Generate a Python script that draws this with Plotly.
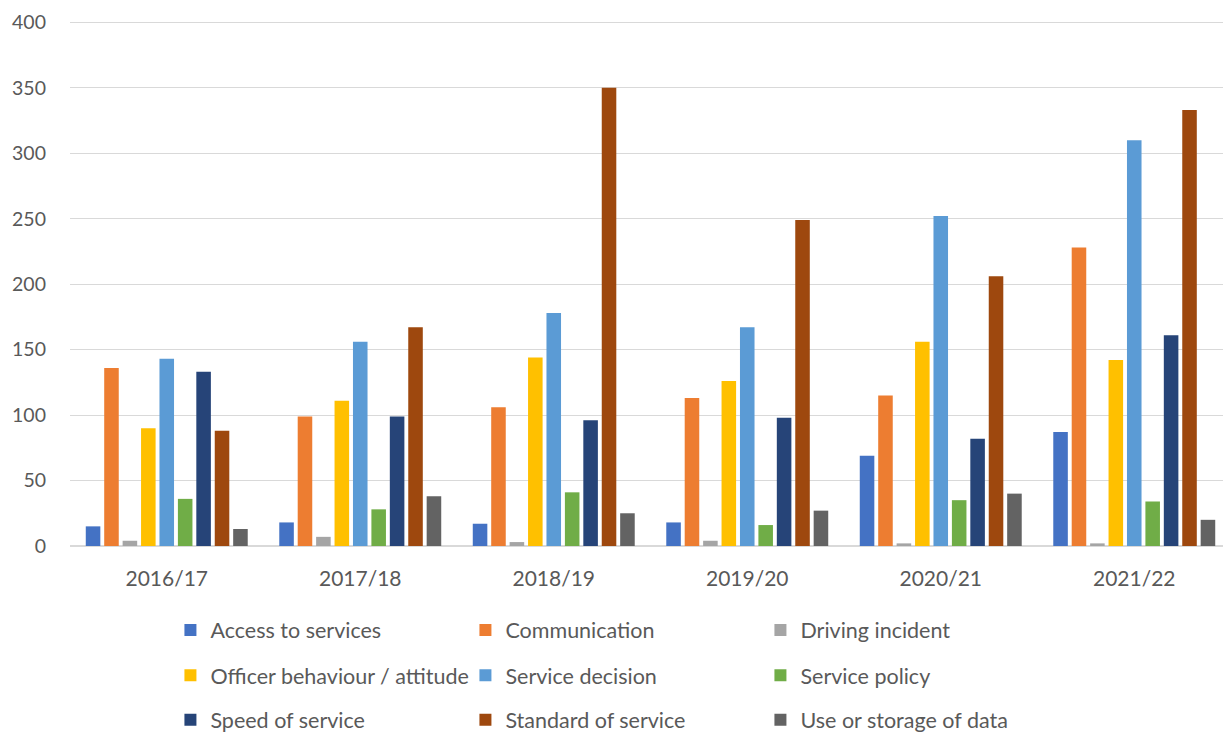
import plotly.graph_objects as go

years = ["2016/17", "2017/18", "2018/19", "2019/20", "2020/21", "2021/22"]

access = [15, 18, 17, 18, 69, 87]
communication = [136, 99, 106, 113, 115, 228]
driving = [4, 7, 3, 4, 2, 2]
officer = [90, 111, 144, 126, 156, 142]
decision = [143, 156, 178, 167, 252, 310]
policy = [36, 28, 41, 16, 35, 34]
speed = [133, 99, 96, 98, 82, 161]
standard = [88, 167, 350, 249, 206, 333]
data_use = [13, 38, 25, 27, 40, 20]

y_ticks = [0, 50, 100, 150, 200, 250, 300, 350, 400]

series = [
    ("Access to services", access, "#4472C4", "legend"),
    ("Communication", communication, "#ED7D31", "legend"),
    ("Driving incident", driving, "#A5A5A5", "legend"),
    ("Officer behaviour / attitude", officer, "#FFC000", "legend2"),
    ("Service decision", decision, "#5B9BD5", "legend2"),
    ("Service policy", policy, "#70AD47", "legend2"),
    ("Speed of service", speed, "#264478", "legend3"),
    ("Standard of service", standard, "#9E480E", "legend3"),
    ("Use or storage of data", data_use, "#636363", "legend3"),
]

fig = go.Figure()
for name, vals, color, lg in series:
    fig.add_trace(go.Bar(x=years, y=vals, name=name, marker_color=color,
                         marker_line_width=0, legend=lg))

font_family = "Lato, 'Open Sans', sans-serif"
txt_color = "#595959"

def leg(ycenter):
    return dict(orientation="h", x=0.0865, xanchor="left", y=ycenter, yanchor="middle",
                entrywidth=250, entrywidthmode="pixels",
                font=dict(family=font_family, size=21.5, color=txt_color),
                bgcolor="rgba(0,0,0,0)", itemclick=False)

fig.update_layout(
    width=1223, height=730,
    margin=dict(l=62, r=0, t=13, b=192, autoexpand=False),
    plot_bgcolor="white", paper_bgcolor="white",
    barmode="group", bargap=0.143, bargroupgap=0.21,
    font=dict(family=font_family, color=txt_color),
    xaxis=dict(tickfont=dict(size=21, color=txt_color), showgrid=False,
               showline=True, linecolor="#d9d9d9", linewidth=1, ticks="",
               ticklabelstandoff=14, automargin=False),
    yaxis=dict(range=[0, 401], tickmode="array", tickvals=y_ticks,
               tickfont=dict(size=19.5, color=txt_color),
               gridcolor="#d9d9d9", gridwidth=1, zeroline=True, zerolinecolor="#d9d9d9",
               ticks="", ticklabelstandoff=23, automargin=False),
    showlegend=True,
    legend=leg(-0.160),
    legend2=leg(-0.246),
    legend3=leg(-0.331),
)

fig.write_html("out.html")
